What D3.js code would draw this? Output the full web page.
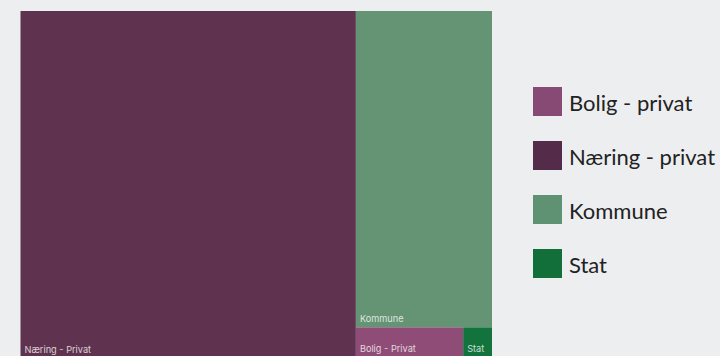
<!DOCTYPE html>
<html>
<head>
<meta charset="utf-8">
<script src="https://cdn.jsdelivr.net/npm/d3@7"></script>
<style>
  body { margin: 0; background: #edeef0; }
  svg { display: block; }
</style>
</head>
<body>
<div id="chart"></div>
<script>
// data (share of total, %)
const categories = ['Næring - Privat', 'Kommune', 'Bolig - Privat', 'Stat'];
const values = [71.13, 26.32, 2.01, 0.54];
const colors = ['#5f334f', '#659474', '#8f4c76', '#12733d'];

const legendLabels = ['Bolig - privat', 'Næring - privat', 'Kommune', 'Stat'];
const legendColors = ['#864a74', '#552b4a', '#5f9272', '#136f3a'];

const width = 720;
const height = 356;
// treemap runs a little past the bottom edge of the picture
const tm = { x0: 20.5, y0: 11, x1: 492, y1: 358 };

const svg = d3.select('#chart')
  .append('svg')
    .attr('width', width)
    .attr('height', height);

const root = d3.hierarchy({
    children: categories.map((c, i) => ({ name: c, value: values[i], color: colors[i] }))
  })
  .sum(d => d.value || 0)
  .sort((a, b) => b.value - a.value);

d3.treemap()
  .tile(d3.treemapSquarify)
  .size([tm.x1 - tm.x0, tm.y1 - tm.y0])
  .paddingInner(0)(root);

const cell = svg.append('g')
    .attr('transform', 'translate(' + tm.x0 + ',' + tm.y0 + ')')
  .selectAll('g')
  .data(root.leaves())
  .enter()
  .append('g')
    .attr('transform', d => 'translate(' + d.x0 + ',' + d.y0 + ')');

cell.append('rect')
  .attr('width', d => d.x1 - d.x0)
  .attr('height', d => d.y1 - d.y0)
  .attr('fill', d => d.data.color);

cell.append('text')
  .attr('x', 4)
  .attr('y', d => d.y1 - d.y0 - 5.5)
  .attr('fill', 'rgba(255,255,255,0.78)')
  .style('font-family', 'Inter, sans-serif')
  .style('font-size', '9.2px')
  .text(d => d.data.name);

// legend
const legend = svg.append('g')
  .attr('transform', 'translate(533,87)');

const item = legend.selectAll('g')
  .data(legendLabels)
  .enter()
  .append('g')
    .attr('transform', (d, i) => 'translate(0,' + (i * 54) + ')');

item.append('rect')
  .attr('width', 29)
  .attr('height', 29)
  .attr('fill', (d, i) => legendColors[i]);

item.append('text')
  .attr('x', 36)
  .attr('y', 24)
  .attr('fill', '#222')
  .style('font-family', 'Lato, sans-serif')
  .style('font-size', '22px')
  .text(d => d);
</script>
</body>
</html>
